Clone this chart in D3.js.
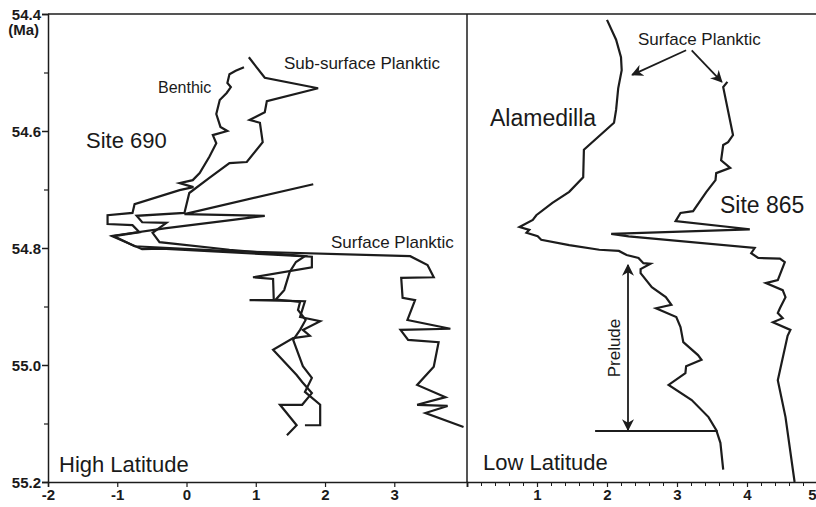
<!DOCTYPE html>
<html>
<head>
<meta charset="utf-8">
<script src="https://cdn.jsdelivr.net/npm/d3@7"></script>
<style>
  body { margin: 0; background: #fff; }
  svg { display: block; }
  .lbl { font-family: "Liberation Sans", Arial, Helvetica, sans-serif; fill: #1a1a1a; }
  .tick-lbl { font-family: "Liberation Sans Narrow", "Liberation Sans", Arial, sans-serif; font-weight: bold; font-size: 15px; fill: #1a1a1a; }
</style>
</head>
<body>
<svg id="chart" width="816" height="507"></svg>
<script>
// values are [d13C value, age (Ma)]
const benthic = [
    [0.83, 54.491], [0.71, 54.497], [0.62, 54.503], [0.59, 54.518], [0.64, 54.525],
    [0.58, 54.535], [0.48, 54.547], [0.43, 54.571], [0.49, 54.593], [0.59, 54.600],
    [0.38, 54.607], [0.43, 54.621], [0.33, 54.644], [0.19, 54.672], [0.09, 54.684],
    [-0.10, 54.689], [0.10, 54.696], [-0.10, 54.701], [-0.75, 54.725], [-0.78, 54.740],
    [-1.14, 54.744], [-1.14, 54.759], [-0.78, 54.761], [-0.68, 54.773], [-1.07, 54.780],
    [-0.64, 54.802], [-0.36, 54.801], [1.81, 54.815], [1.81, 54.833], [0.96, 54.850],
    [1.25, 54.853], [1.26, 54.889], [0.91, 54.889], [1.71, 54.891], [1.64, 54.918],
    [1.93, 54.925], [1.68, 54.940], [1.78, 54.950], [1.54, 54.954], [1.25, 54.974],
    [1.59, 55.017], [1.67, 55.029], [1.81, 55.048], [1.67, 55.068], [1.35, 55.068],
    [1.59, 55.103], [1.45, 55.120]
];

const subSurface = [
    [0.90, 54.474], [1.13, 54.509], [1.90, 54.527], [1.16, 54.549], [1.13, 54.568],
    [0.91, 54.581], [1.06, 54.586], [1.10, 54.619], [0.87, 54.653], [0.62, 54.655],
    [0.33, 54.680], [0.04, 54.706], [-0.03, 54.740], [-0.72, 54.745], [-0.64, 54.756],
    [-0.29, 54.757], [-0.49, 54.774], [-0.39, 54.790], [0.62, 54.803], [1.71, 54.814],
    [1.58, 54.824], [1.49, 54.841], [1.41, 54.872], [1.29, 54.888], [1.64, 54.892],
    [1.61, 54.906], [1.72, 54.923], [1.64, 54.940], [1.54, 54.957], [1.68, 55.002],
    [1.81, 55.022], [1.71, 55.046], [1.93, 55.068], [1.93, 55.103], [1.71, 55.103]
];

const surface690 = [
    [1.83, 54.691], [-0.03, 54.742], [1.13, 54.745], [0.67, 54.752], [-0.29, 54.766],
    [-1.06, 54.779], [-0.75, 54.797], [0.55, 54.805], [3.23, 54.814], [3.48, 54.829],
    [3.57, 54.850], [3.10, 54.851], [3.12, 54.885], [3.30, 54.889], [3.19, 54.923],
    [3.81, 54.938], [3.09, 54.940], [3.20, 54.957], [3.64, 54.961], [3.57, 55.003],
    [3.33, 55.034], [3.74, 55.055], [3.33, 55.068], [3.77, 55.070], [3.45, 55.082],
    [4.00, 55.106]
];

const alamedilla = [
    [2.00, 54.410], [2.13, 54.444], [2.20, 54.474], [2.21, 54.496], [2.16, 54.527],
    [2.13, 54.564], [2.10, 54.586], [1.67, 54.632], [1.66, 54.679], [1.46, 54.704],
    [1.22, 54.723], [0.99, 54.744], [0.94, 54.752], [0.75, 54.764], [0.89, 54.769],
    [0.85, 54.774], [1.01, 54.780], [1.06, 54.786], [1.46, 54.795], [1.89, 54.803],
    [2.17, 54.805], [2.28, 54.812], [2.45, 54.817], [2.52, 54.826], [2.62, 54.827],
    [2.48, 54.836], [2.48, 54.843], [2.64, 54.867], [2.84, 54.884], [2.92, 54.897],
    [2.70, 54.903], [2.99, 54.918], [3.05, 54.935], [3.09, 54.961], [3.30, 54.983],
    [3.35, 54.991], [3.13, 55.002], [3.12, 55.014], [2.88, 55.034], [3.21, 55.060],
    [3.45, 55.089], [3.56, 55.111], [3.62, 55.133], [3.66, 55.179]
];

const site865 = [
    [3.72, 54.516], [3.66, 54.525], [3.80, 54.607], [3.73, 54.619], [3.66, 54.624],
    [3.63, 54.650], [3.76, 54.663], [3.56, 54.672], [3.55, 54.684], [3.42, 54.704],
    [3.23, 54.737], [3.05, 54.740], [2.98, 54.754], [4.04, 54.768], [2.06, 54.776],
    [2.31, 54.780], [4.11, 54.800], [4.06, 54.809], [4.16, 54.817], [4.47, 54.818],
    [4.54, 54.824], [4.44, 54.855], [4.27, 54.860], [4.51, 54.872], [4.55, 54.884],
    [4.47, 54.903], [4.44, 54.911], [4.51, 54.920], [4.37, 54.927], [4.62, 54.940],
    [4.58, 54.950], [4.44, 55.026], [4.55, 55.089], [4.68, 55.200]
];

const ageTicks = [54.4, 54.6, 54.8, 55.0, 55.2];
const ageMinorTicks = [54.5, 54.7, 54.9, 55.1];
const leftTicks = [-2, -1, 0, 1, 2, 3];
const rightTicks = [1, 2, 3, 4, 5];

const svg = d3.select('#chart');
const ink = '#1c1c1c';

const plotTop = 14, plotBottom = 482, plotLeft = 48, plotMid = 467, plotRight = 817;

const y = d3.scaleLinear().domain([54.4, 55.2]).range([plotTop, plotBottom]);
const xL = d3.scaleLinear().domain([-2, 4.05]).range([plotLeft, plotMid]);
const xR = d3.scaleLinear().domain([0, 5]).range([plotMid, plotRight]);

const intFmt = d => String(d); // plain hyphen minus like the original

// frame: top line, divider
svg.append('line').attr('x1', plotLeft).attr('x2', 816).attr('y1', plotTop).attr('y2', plotTop)
    .attr('stroke', ink).attr('stroke-width', 1.5);
svg.append('line').attr('x1', plotMid).attr('x2', plotMid).attr('y1', plotTop).attr('y2', plotBottom)
    .attr('stroke', ink).attr('stroke-width', 1.5);

// Y axis
const yAxis = d3.axisLeft(y).tickValues(ageTicks).tickSize(6).tickFormat(d => d.toFixed(1));
const gy = svg.append('g').attr('transform', `translate(${plotLeft},0)`).call(yAxis);
gy.select('.domain').attr('stroke', ink).attr('stroke-width', 1.5);
gy.selectAll('.tick line').attr('stroke', ink).attr('stroke-width', 1.5);
gy.selectAll('.tick text').attr('class', 'tick-lbl').attr('x', -7).attr('dy', '0.35em');
svg.append('g').attr('transform', `translate(${plotLeft},0)`)
    .call(d3.axisLeft(y).tickValues(ageMinorTicks).tickSize(4).tickFormat(''))
    .call(g => g.select('.domain').remove())
    .selectAll('.tick line').attr('stroke', ink).attr('stroke-width', 1.2);
svg.append('text').attr('class', 'tick-lbl').attr('x', 39).attr('y', y(54.4) + 21)
    .attr('text-anchor', 'end').text('(Ma)');

// bottom axes
const gxL = svg.append('g').attr('transform', `translate(0,${plotBottom})`)
    .call(d3.axisBottom(xL).tickValues(leftTicks).tickSize(5).tickFormat(intFmt));
gxL.select('.domain').attr('stroke', ink).attr('stroke-width', 1.5);
gxL.selectAll('.tick line').attr('stroke', ink).attr('stroke-width', 1.2);
gxL.selectAll('.tick text').attr('class', 'tick-lbl').attr('y', 7);

const gxR = svg.append('g').attr('transform', `translate(0,${plotBottom})`)
    .call(d3.axisBottom(xR).tickValues(rightTicks).tickSize(5).tickFormat(intFmt));
gxR.select('.domain').attr('stroke', ink).attr('stroke-width', 1.5);
gxR.selectAll('.tick line').attr('stroke', ink).attr('stroke-width', 1.2);
gxR.selectAll('.tick text').attr('class', 'tick-lbl').attr('y', 7)
    .filter(d => d === 5).attr('text-anchor', 'end').attr('dx', -1);
svg.append('g').attr('transform', `translate(0,${plotBottom})`)
    .call(d3.axisBottom(xR).tickValues(d3.range(0.2, 5, 0.2)).tickSize(4).tickFormat(''))
    .call(g => g.select('.domain').remove())
    .selectAll('.tick line').attr('stroke', ink).attr('stroke-width', 1);

// data lines
const lineL = d3.line().x(d => xL(d[0])).y(d => y(d[1]));
const lineR = d3.line().x(d => xR(d[0])).y(d => y(d[1]));

[benthic, subSurface, surface690].forEach(s => {
    svg.append('path').datum(s).attr('d', lineL)
        .attr('fill', 'none').attr('stroke', ink).attr('stroke-width', 2.2)
        .attr('stroke-linejoin', 'miter');
});
[alamedilla, site865].forEach(s => {
    svg.append('path').datum(s).attr('d', lineR)
        .attr('fill', 'none').attr('stroke', ink).attr('stroke-width', 2.2)
        .attr('stroke-linejoin', 'miter');
});

// arrow markers
const defs = svg.append('defs');
defs.append('marker').attr('id', 'head').attr('viewBox', '0 0 10 10')
    .attr('refX', 9).attr('refY', 5).attr('markerWidth', 12).attr('markerHeight', 12)
    .attr('markerUnits', 'userSpaceOnUse').attr('orient', 'auto-start-reverse')
    .append('path').attr('d', 'M0,0 L10,5 L0,10 L3,5 Z').attr('fill', ink);

function arrow(x1, y1, x2, y2, both) {
    const p = svg.append('line').attr('x1', x1).attr('y1', y1).attr('x2', x2).attr('y2', y2)
        .attr('stroke', ink).attr('stroke-width', 1.8).attr('marker-end', 'url(#head)');
    if (both) p.attr('marker-start', 'url(#head)');
}

// Surface Planktic pointers (right panel)
arrow(xR(3.13), y(54.462), xR(2.36), y(54.504));
arrow(xR(3.21), y(54.462), xR(3.64), y(54.516));

// Prelude
arrow(xR(2.3), y(54.829), xR(2.3), y(55.111), true);
svg.append('line').attr('x1', xR(1.83)).attr('x2', xR(3.58))
    .attr('y1', y(55.113)).attr('y2', y(55.113))
    .attr('stroke', ink).attr('stroke-width', 2);

// labels
function label(txt, x, yy, size, anchor, rot) {
    const t = svg.append('text').attr('class', 'lbl').attr('x', x).attr('y', yy)
        .attr('font-size', size).attr('text-anchor', anchor || 'start').text(txt);
    if (rot) t.attr('transform', `rotate(${rot},${x},${yy})`);
    return t;
}

label('Benthic', 158, 93, 16);
label('Sub-surface Planktic', 284, 69, 17);
label('Site 690', 86, 148, 22);
label('Surface Planktic', 331, 248, 17);
label('High Latitude', 59, 472, 22);

label('Surface Planktic', 638, 45, 17);
label('Alamedilla', 490, 126, 23);
label('Site 865', 720, 213, 23);
label('Prelude', 620, 348, 17, 'middle', -90);
label('Low Latitude', 483, 470, 22);
</script>
</body>
</html>
